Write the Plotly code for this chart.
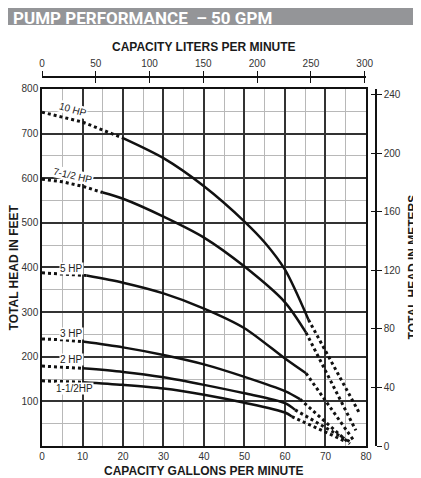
import plotly.graph_objects as go

# pump curves: capacity in US gallons per minute, total head in feet
# each curve = dotted start, solid working range, dotted run-out
hp10_start_gpm = [0, 10, 20]
hp10_start_ft = [748, 726, 690]
hp10_gpm = [20, 30, 40, 50, 55, 60, 65.8]
hp10_ft = [690, 645, 582, 503, 456, 395, 283]
hp10_end_gpm = [65.8, 78.3]
hp10_end_ft = [283, 75]

hp7_start_gpm = [0, 5, 10, 15]
hp7_start_ft = [598, 592, 582, 568]
hp7_gpm = [15, 20, 30, 40, 50, 60, 65.2]
hp7_ft = [568, 554, 514, 467, 402, 322, 254]
hp7_end_gpm = [65.2, 77.5]
hp7_end_ft = [254, 35]

hp5_start_gpm = [0, 5, 11]
hp5_start_ft = [388, 386, 382]
hp5_gpm = [11, 20, 30, 40, 50, 60, 65.2]
hp5_ft = [382, 366, 342, 308, 264, 196, 163]
hp5_end_gpm = [65.2, 77]
hp5_end_ft = [163, 12]

hp3_start_gpm = [0, 5, 10]
hp3_start_ft = [240, 238, 234]
hp3_gpm = [10, 20, 30, 40, 50, 60, 63.7]
hp3_ft = [234, 221, 204, 183, 155, 123, 105]
hp3_end_gpm = [63.7, 76]
hp3_end_ft = [105, 5]

hp2_start_gpm = [0, 5, 10]
hp2_start_ft = [179, 177, 174]
hp2_gpm = [10, 20, 30, 40, 50, 60, 62.5]
hp2_ft = [174, 166, 154, 137, 118, 96, 81]
hp2_end_gpm = [62.5, 76.5]
hp2_end_ft = [81, 7]

hp15_start_gpm = [0, 5, 10]
hp15_start_ft = [146, 145, 143]
hp15_gpm = [10, 20, 30, 40, 50, 60, 61.7]
hp15_ft = [143, 137, 129, 115, 97, 75, 66]
hp15_end_gpm = [61.7, 75]
hp15_end_ft = [66, 10]

curve_names = ["10 HP", "7-1/2 HP", "5 HP", "3 HP", "2 HP", "1-1/2HP"]

gpm_ticks = [0, 10, 20, 30, 40, 50, 60, 70, 80]
ft_ticks = [100, 200, 300, 400, 500, 600, 700, 800]
lpm_ticks = [0, 50, 100, 150, 200, 250, 300]
m_ticks = [0, 40, 80, 120, 160, 200, 240]

GPM_TO_LPM = 3.785
FT_TO_M = 0.3048

curves = [
    (hp10_start_gpm, hp10_start_ft, hp10_gpm, hp10_ft, hp10_end_gpm, hp10_end_ft),
    (hp7_start_gpm, hp7_start_ft, hp7_gpm, hp7_ft, hp7_end_gpm, hp7_end_ft),
    (hp5_start_gpm, hp5_start_ft, hp5_gpm, hp5_ft, hp5_end_gpm, hp5_end_ft),
    (hp3_start_gpm, hp3_start_ft, hp3_gpm, hp3_ft, hp3_end_gpm, hp3_end_ft),
    (hp2_start_gpm, hp2_start_ft, hp2_gpm, hp2_ft, hp2_end_gpm, hp2_end_ft),
    (hp15_start_gpm, hp15_start_ft, hp15_gpm, hp15_ft, hp15_end_gpm, hp15_end_ft),
]

# where each curve label sits (gpm, ft, angle)
label_spots = [(7.6, 755, 16), (7.6, 607, 13), (7.2, 398, 0),
               (7.2, 252, 0), (7.2, 194, 0), (8.0, 129, 0)]

FONT = "Liberation Sans, Arial, sans-serif"
dotted = dict(color="#111", width=3, dash="3px,3px")
solid = dict(color="#111", width=2.5, shape="spline", smoothing=0.8)

fig = go.Figure()
for name, (sx, sy, x, y, ex, ey) in zip(curve_names, curves):
    fig.add_trace(go.Scatter(x=sx, y=sy, mode="lines", line=dotted, name=name, hoverinfo="skip"))
    fig.add_trace(go.Scatter(x=x, y=y, mode="lines", line=solid, name=name))
    fig.add_trace(go.Scatter(x=ex, y=ey, mode="lines", line=dotted, name=name, hoverinfo="skip"))

# same 10 HP curve in metric units, invisible, so the litre / metre axes get drawn
lpm = [g * GPM_TO_LPM for g in hp10_gpm]
metres = [f * FT_TO_M for f in hp10_ft]
for xa, ya in [("x2", "y2"), ("x3", "y3")]:
    fig.add_trace(go.Scatter(x=lpm, y=metres, xaxis=xa, yaxis=ya, mode="lines",
                             line=dict(width=0, color="rgba(0,0,0,0)"), hoverinfo="skip"))

tick_font = dict(family=FONT, size=10, color="#333")
title_font = dict(family=FONT, size=12, color="#1a1a1a")
lpm_range = [0, 301.2]  # printed litre scale runs a hair short of 80 gpm

# the page body adds an 8px margin, so the figure is 8px smaller than the window
fig.update_layout(
    width=413,
    height=470,
    margin=dict(l=34, r=45, t=69, b=32),
    paper_bgcolor="white",
    plot_bgcolor="white",
    showlegend=False,
    xaxis=dict(
        domain=[0, 0.97], range=[0, 80], tickvals=gpm_ticks, ticks="",
        showgrid=True, gridcolor="#333", gridwidth=1.5,
        minor=dict(dtick=5, showgrid=True, gridcolor="#b8b8b8", gridwidth=1),
        showline=True, mirror=True, linecolor="#111", linewidth=1.5,
        zeroline=False, tickfont=tick_font, anchor="y",
    ),
    yaxis=dict(
        domain=[0, 0.9675], range=[0, 800], tickvals=ft_ticks, ticks="",
        showgrid=True, gridcolor="#333", gridwidth=1.5,
        minor=dict(dtick=50, showgrid=True, gridcolor="#b8b8b8", gridwidth=1),
        showline=True, mirror=True, linecolor="#111", linewidth=1.5,
        zeroline=False, tickfont=tick_font, anchor="x",
    ),
    xaxis2=dict(
        overlaying="x", anchor="free", position=1, side="top",
        range=lpm_range, tickvals=lpm_ticks,
        ticks="outside", ticklen=5, tickwidth=1.2, tickcolor="#111",
        showline=True, linecolor="#111", linewidth=1.5,
        showgrid=False, zeroline=False, tickfont=tick_font,
    ),
    xaxis3=dict(
        overlaying="x", anchor="free", position=1, side="top",
        range=lpm_range, tickvals=lpm_ticks,
        ticks="inside", ticklen=5, tickwidth=1.2, tickcolor="#111",
        showticklabels=False, showline=False, showgrid=False, zeroline=False,
    ),
    yaxis2=dict(
        overlaying="y", anchor="free", position=1, side="right",
        range=[0, 800 * FT_TO_M], tickvals=m_ticks,
        ticks="outside", ticklen=5, tickwidth=1.2, tickcolor="#111",
        showline=True, linecolor="#111", linewidth=1.5,
        showgrid=False, zeroline=False, tickfont=tick_font,
    ),
    yaxis3=dict(
        overlaying="y", anchor="free", position=1, side="right",
        range=[0, 800 * FT_TO_M], tickvals=m_ticks,
        ticks="inside", ticklen=5, tickwidth=1.2, tickcolor="#111",
        showticklabels=False, showline=False, showgrid=False, zeroline=False,
    ),
)

# grey title banner
fig.add_shape(type="rect", xref="paper", yref="paper",
              x0=-0.1048, x1=1.1198, y0=1.1409, y1=1.187,
              fillcolor="#949598", line_width=0, layer="below")
fig.add_annotation(text="<b>PUMP PERFORMANCE  – 50 GPM</b>", xref="paper", yref="paper",
                   x=-0.092, y=1.16, xanchor="left", yanchor="middle", showarrow=False,
                   font=dict(family="Roboto, " + FONT, size=17, color="white"))

# axis titles
axis_titles = [
    ("CAPACITY LITERS PER MINUTE", 0.485, 1.0813, 0),
    ("CAPACITY GALLONS PER MINUTE", 0.485, -0.0678, 0),
    ("TOTAL HEAD IN FEET", -0.0838, 0.484, -90),
    ("TOTAL HEAD IN METERS", 1.1108, 0.484, -90),
]
for text, ax, ay, ang in axis_titles:
    fig.add_annotation(text=f"<b>{text}</b>", xref="paper", yref="paper", x=ax, y=ay,
                       xanchor="center", yanchor="middle", textangle=ang,
                       showarrow=False, font=title_font)

for name, (lx, ly, ang) in zip(curve_names, label_spots):
    fig.add_annotation(text=name, x=lx, y=ly, xref="x", yref="y", textangle=ang,
                       showarrow=False, bgcolor="white", borderpad=0,
                       font=dict(family=FONT, size=10, color="#222"))

fig.write_html("out.html")
